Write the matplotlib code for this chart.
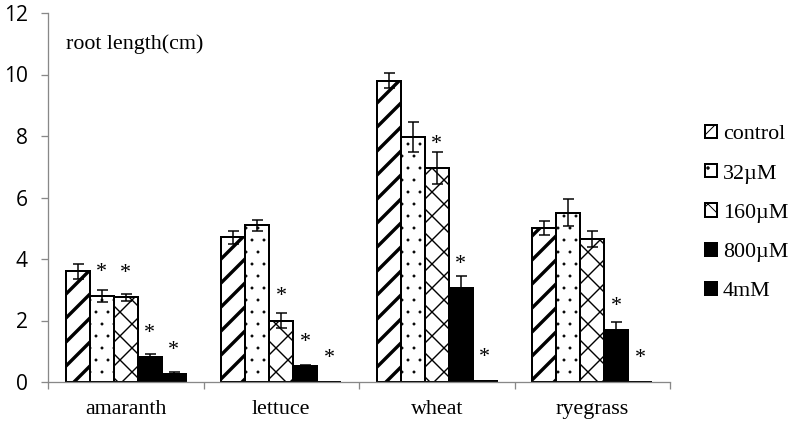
import numpy as np
import matplotlib
matplotlib.use("Agg")
import matplotlib.pyplot as plt

# --- data ---
crops = ["amaranth", "lettuce", "wheat", "ryegrass"]
treatments = ["control", "32µM", "160µM", "800µM", "4mM"]

control = [3.6, 4.7, 9.8, 5.0]
um32 = [2.8, 5.1, 7.97, 5.5]
um160 = [2.75, 2.0, 6.97, 4.65]
um800 = [0.8, 0.52, 3.07, 1.68]
mm4 = [0.25, 0.0, 0.03, 0.0]

control_err = [0.25, 0.22, 0.25, 0.22]
um32_err = [0.2, 0.18, 0.48, 0.44]
um160_err = [0.12, 0.25, 0.52, 0.26]
um800_err = [0.12, 0.03, 0.37, 0.27]
mm4_err = [0.08, 0.0, 0.0, 0.0]

# significance stars (1 = star above the bar)
control_sig = [0, 0, 0, 0]
um32_sig = [1, 0, 0, 0]
um160_sig = [1, 1, 1, 0]
um800_sig = [1, 1, 1, 1]
mm4_sig = [1, 1, 1, 1]

values = [control, um32, um160, um800, mm4]
errors = [control_err, um32_err, um160_err, um800_err, mm4_err]
sigs = [control_sig, um32_sig, um160_sig, um800_sig, mm4_sig]

styles = [
    dict(facecolor="white", hatch="/", hlw=3.4),
    dict(facecolor="white", hatch=".", hlw=0.4),
    dict(facecolor="white", hatch="x", hlw=1.4),
    dict(facecolor="black", hatch=None, hlw=1.0),
    dict(facecolor="black", hatch=None, hlw=1.0),
]

DPI = 72
fig = plt.figure(figsize=(795 / DPI, 424 / DPI), dpi=DPI)
ax = fig.add_axes([48 / 795, 42 / 424, 622 / 795, 369 / 424])

serif = "Liberation Serif"
x = np.arange(len(crops))
w = 0.154

for i, (vals, errs, st) in enumerate(zip(values, errors, styles)):
    pos = x + (i - 2) * w
    with plt.rc_context({"hatch.linewidth": st["hlw"]}):
        bars = ax.bar(pos, vals, width=w, facecolor=st["facecolor"],
                      edgecolor="black", linewidth=2, hatch=st["hatch"],
                      label=treatments[i], zorder=2)
    for b in bars:
        if hasattr(b, "set_hatch_linewidth"):
            b.set_hatch_linewidth(st["hlw"])
    errs = np.array(errs)
    m = errs > 0
    ax.errorbar(pos[m], np.array(vals)[m], yerr=errs[m], fmt="none",
                ecolor="black", elinewidth=1.5, capsize=5.5, capthick=1.5,
                zorder=3)
    for p, v, s in zip(pos, vals, sigs[i]):
        if s:
            ax.text(p, v + 0.62, "*", ha="center", va="baseline",
                    fontsize=22, family=serif, zorder=4)

ax.set_xlim(-0.5, len(crops) - 0.5)
ax.set_ylim(0, 12)
ax.set_yticks(np.arange(0, 13, 2))

ax.set_xticks(np.arange(-0.5, len(crops), 1.0))
ax.set_xticklabels([])
ax.set_xticks(x, minor=True)
ax.set_xticklabels(crops, minor=True)
ax.tick_params(axis="x", which="major", length=7, width=1.3,
               color="#888888", direction="out")
ax.tick_params(axis="x", which="minor", length=0, pad=18,
               labelsize=22, labelfontfamily=serif)
ax.tick_params(axis="y", length=7, width=1.3, color="#888888", pad=13,
               labelsize=21, labelfontfamily="Open Sans")

for side in ["top", "right"]:
    ax.spines[side].set_visible(False)
for side in ["left", "bottom"]:
    ax.spines[side].set_color("#888888")
    ax.spines[side].set_linewidth(1.3)

ax.text(-0.385, 11.0, "root length(cm)", family=serif, fontsize=22,
        va="center", ha="left")

fig.legend(loc="upper left", bbox_to_anchor=(705 / 795, 1 - 125 / 424),
           frameon=False, borderpad=0, borderaxespad=0,
           handlelength=0.55, handleheight=0.55, handletextpad=0.27,
           labelspacing=0.9, prop={"family": serif, "size": 22})

fig.savefig("out.png", dpi=DPI)
